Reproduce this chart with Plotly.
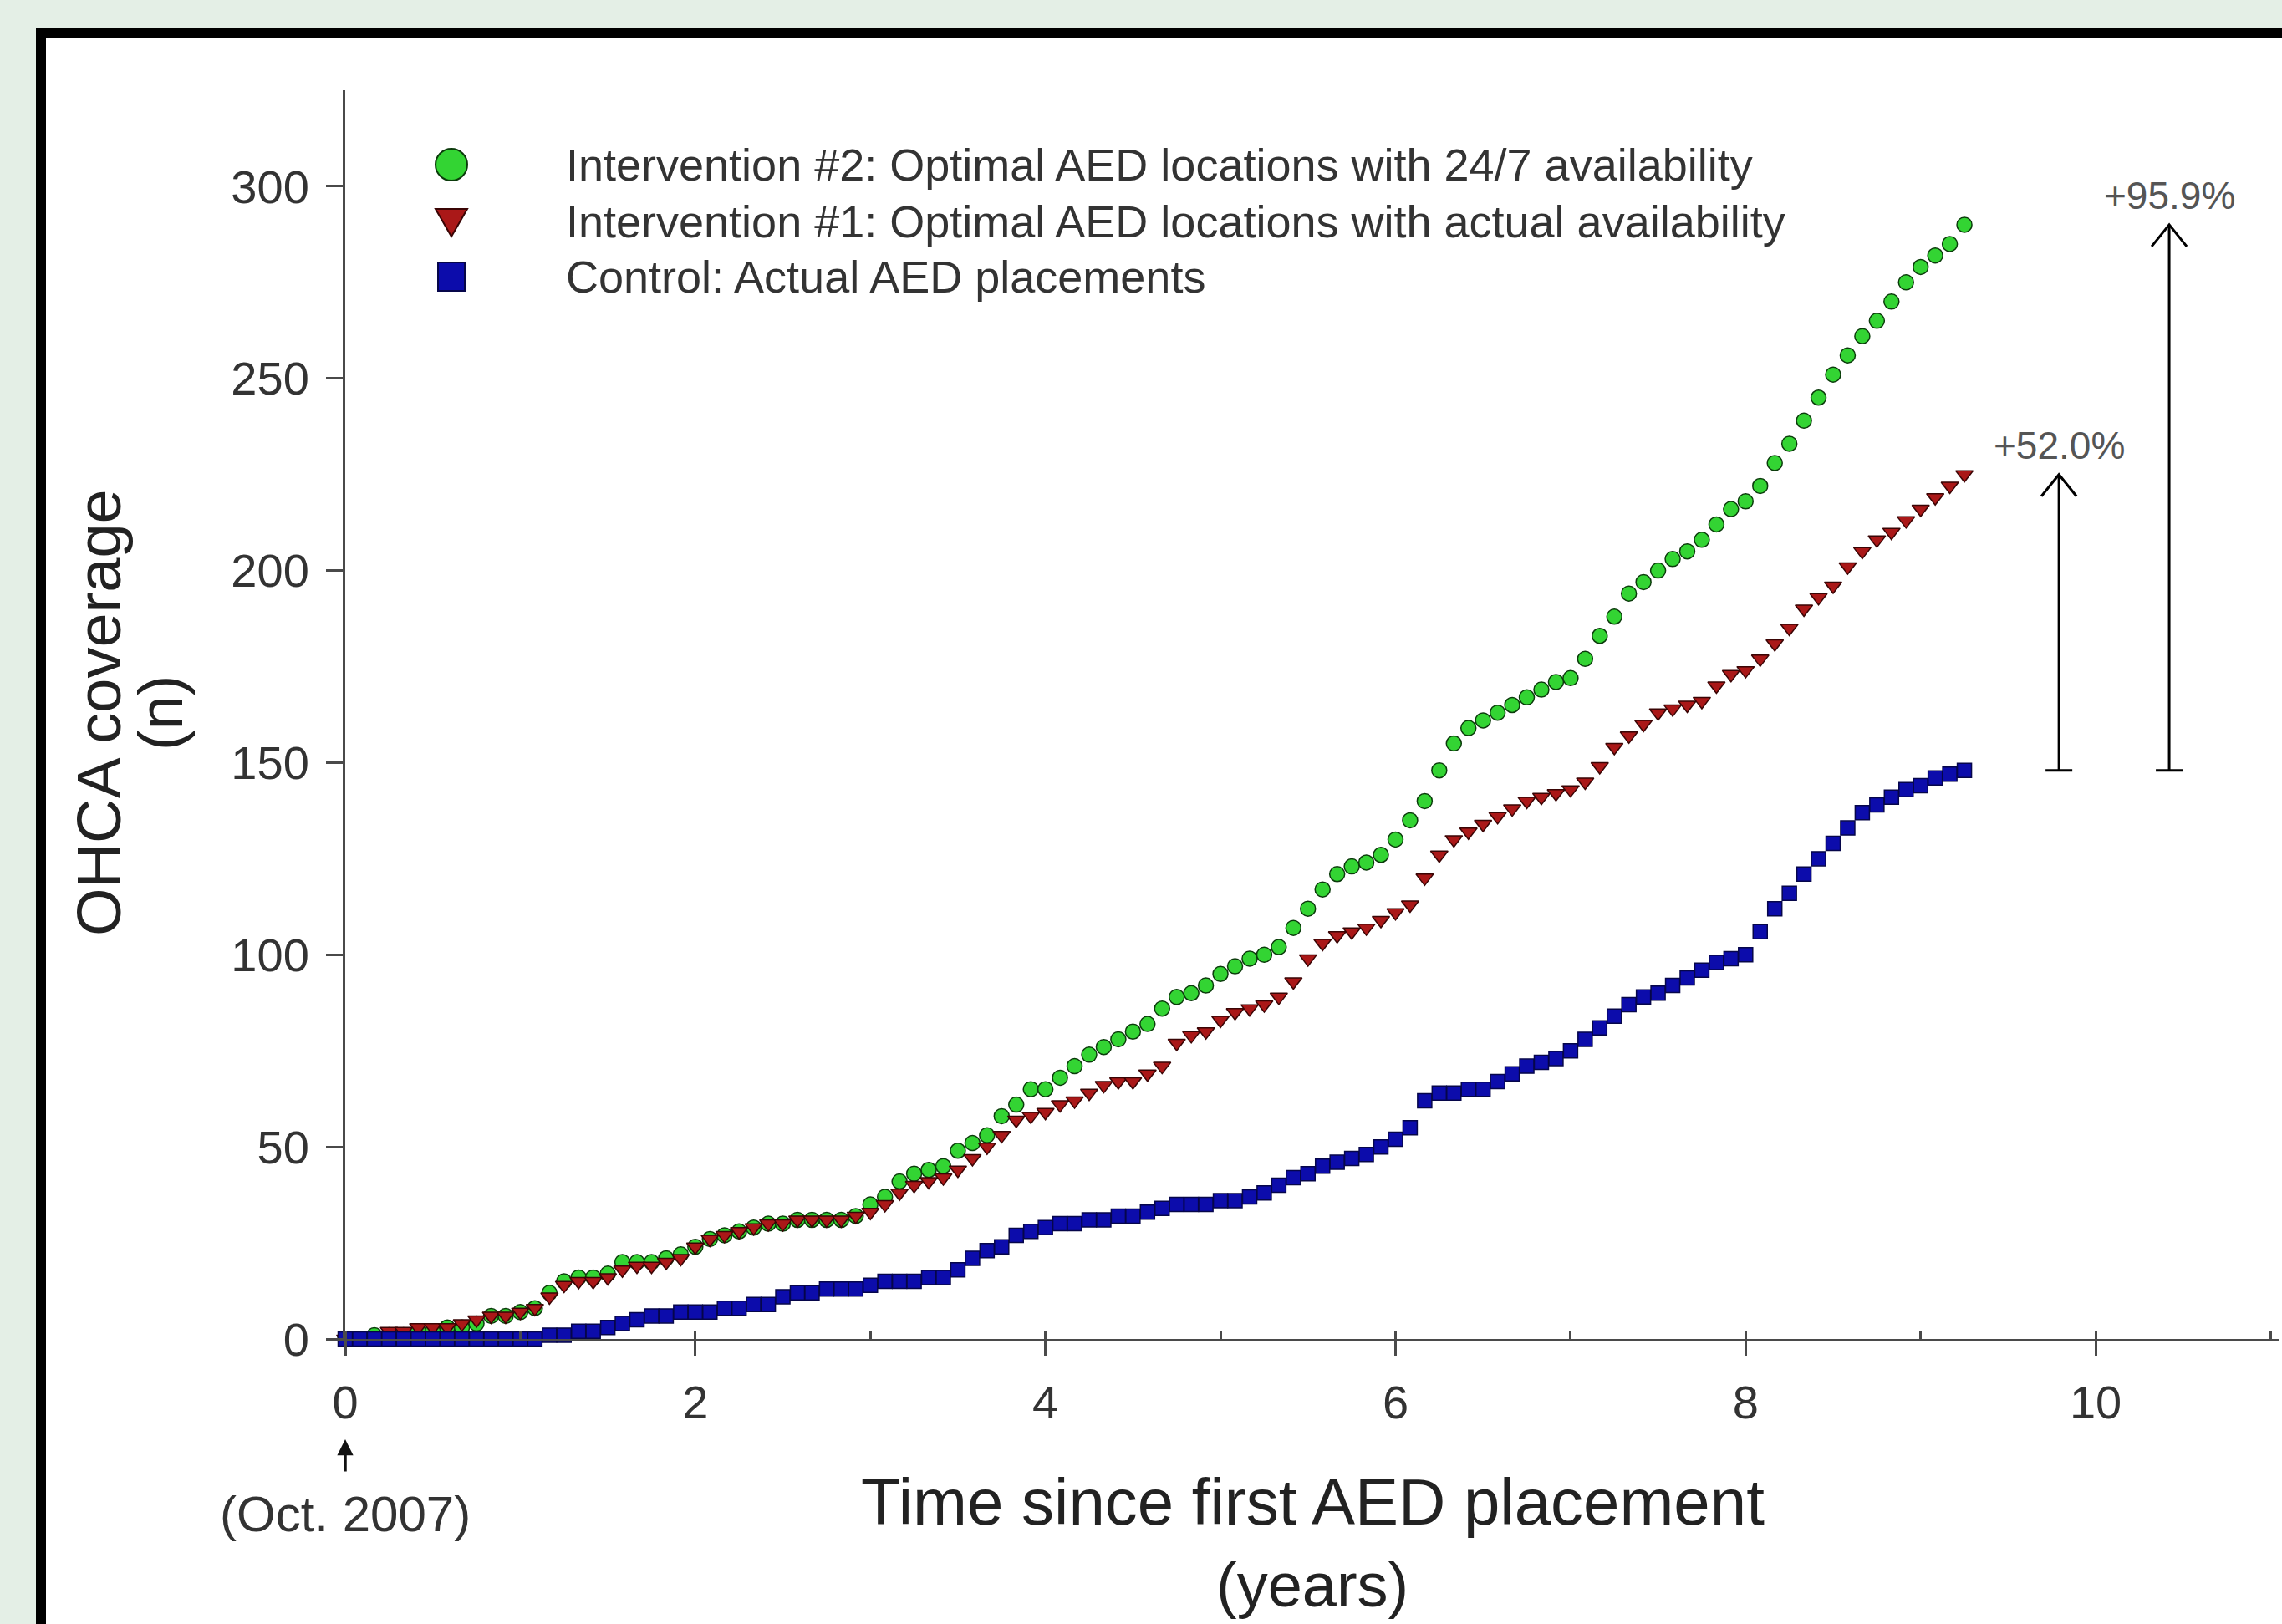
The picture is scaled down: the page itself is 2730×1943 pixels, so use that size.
import plotly.graph_objects as go

# ---------------- data ----------------
months = list(range(112))
years = [m / 12 for m in months]

intervention2 = [
    0, 0, 1, 1, 1, 2, 2, 3, 3, 4,
    6, 6, 7, 8, 12, 15, 16, 16, 17, 20,
    20, 20, 21, 22, 24, 26, 27, 28, 29, 30,
    30, 31, 31, 31, 31, 32, 35, 37, 41, 43,
    44, 45, 49, 51, 53, 58, 61, 65, 65, 68,
    71, 74, 76, 78, 80, 82, 86, 89, 90, 92,
    95, 97, 99, 100, 102, 107, 112, 117, 121, 123,
    124, 126, 130, 135, 140, 148, 155, 159, 161, 163,
    165, 167, 169, 171, 172, 177, 183, 188, 194, 197,
    200, 203, 205, 208, 212, 216, 218, 222, 228, 233,
    239, 245, 251, 256, 261, 265, 270, 275, 279, 282,
    285, 290,
]
intervention1 = [
    0, 1, 1, 2, 2, 3, 3, 3, 4, 5,
    6, 6, 7, 8, 11, 14, 15, 15, 16, 18,
    19, 19, 20, 21, 24, 26, 27, 28, 29, 30,
    30, 31, 31, 31, 31, 32, 33, 35, 38, 40,
    41, 42, 44, 47, 50, 53, 57, 58, 59, 61,
    62, 64, 66, 67, 67, 69, 71, 77, 79, 80,
    83, 85, 86, 87, 89, 93, 99, 103, 105, 106,
    107, 109, 111, 113, 120, 126, 130, 132, 134, 136,
    138, 140, 141, 142, 143, 145, 149, 154, 157, 160,
    163, 164, 165, 166, 170, 173, 174, 177, 181, 185,
    190, 193, 196, 201, 205, 208, 210, 213, 216, 219,
    222, 225,
]
control = [
    0, 0, 0, 0, 0, 0, 0, 0, 0, 0,
    0, 0, 0, 0, 1, 1, 2, 2, 3, 4,
    5, 6, 6, 7, 7, 7, 8, 8, 9, 9,
    11, 12, 12, 13, 13, 13, 14, 15, 15, 15,
    16, 16, 18, 21, 23, 24, 27, 28, 29, 30,
    30, 31, 31, 32, 32, 33, 34, 35, 35, 35,
    36, 36, 37, 38, 40, 42, 43, 45, 46, 47,
    48, 50, 52, 55, 62, 64, 64, 65, 65, 67,
    69, 71, 72, 73, 75, 78, 81, 84, 87, 89,
    90, 92, 94, 96, 98, 99, 100, 106, 112, 116,
    121, 125, 129, 133, 137, 139, 141, 143, 144, 146,
    147, 148,
]

series_names = [
    "Intervention #2: Optimal AED locations with 24/7 availability",
    "Intervention #1: Optimal AED locations with actual availability",
    "Control: Actual AED placements",
]
x_ticks = [0, 2, 4, 6, 8, 10]
y_ticks = [0, 50, 100, 150, 200, 250, 300]
arrow_x = [9.79, 10.42]  # positions of the two gain arrows (years)

# ---------------- figure geometry ----------------
W, H = 2730, 1943
ML, MR, MT, MB = 413, 3, 108, 341
PW, PH = W - ML - MR, H - MT - MB
FONT = "Liberation Sans, Arial, Helvetica, sans-serif"


def px_x(px):
    return (px - ML) / PW


def px_y(py):
    return (H - MB - py) / PH


styles = [
    dict(symbol="circle", color="#33d433", line="#0b3b0b", size=18),
    dict(symbol="triangle-down", color="#aa1818", line="#3a0505", size=18),
    dict(symbol="square", color="#0c0cab", line="#06064a", size=17),
]
data = [intervention2, intervention1, control]

fig = go.Figure()
for name, ys, st in zip(series_names, data, styles):
    fig.add_trace(go.Scatter(
        x=years, y=ys, mode="markers", name=name, showlegend=False,
        cliponaxis=False,
        marker=dict(symbol=st["symbol"], size=st["size"], color=st["color"],
                    line=dict(color=st["line"], width=1.5)),
    ))

shapes = []
annotations = []

# white panel with thick black frame
shapes.append(dict(type="rect", xref="paper", yref="paper", layer="below",
                   x0=px_x(49), x1=px_x(2800), y0=px_y(39), y1=px_y(2050),
                   fillcolor="white", line=dict(color="black", width=12)))

# custom legend (large glyphs)
leg_rows = [197, 265, 331]
leg_x = px_x(540)
for (name, st, row) in zip(series_names, styles, leg_rows):
    yy = px_y(row)
    common = dict(xref="paper", yref="paper", xsizemode="pixel", ysizemode="pixel",
                  xanchor=leg_x, yanchor=yy, fillcolor=st["color"],
                  line=dict(color=st["line"], width=2))
    if st["symbol"] == "circle":
        shapes.append(dict(type="circle", x0=-19, x1=19, y0=-19, y1=19, **common))
    elif st["symbol"] == "triangle-down":
        shapes.append(dict(type="path", path="M -19,15 L 19,15 L 0,-18 Z", **common))
    else:
        shapes.append(dict(type="rect", x0=-16, x1=16, y0=-17, y1=17, **common))
    annotations.append(dict(xref="paper", yref="paper", x=px_x(675), y=yy,
                            xanchor="left", yanchor="middle", showarrow=False,
                            text=name, font=dict(family=FONT, size=54, color="#333333")))

# gain arrows from control to the interventions
base = control[-1]
for ax_, top in zip(arrow_x, [intervention1[-1], intervention2[-1]]):
    shapes.append(dict(type="line", xref="x", yref="y", x0=ax_, x1=ax_, y0=base, y1=top,
                       line=dict(color="black", width=3)))
    shapes.append(dict(type="path", xref="x", yref="y", xsizemode="pixel", ysizemode="pixel",
                       xanchor=ax_, yanchor=top, path="M -21,-26 L 0,0 L 21,-26",
                       line=dict(color="black", width=3)))
    shapes.append(dict(type="line", xref="x", yref="y", xsizemode="pixel", ysizemode="pixel",
                       xanchor=ax_, yanchor=base, x0=-16, x1=16, y0=0, y1=0,
                       line=dict(color="black", width=3)))
    pct = (top - base) / base * 100
    annotations.append(dict(xref="x", yref="y", x=ax_, y=top, yshift=35,
                            showarrow=False, text=f"+{pct:.1f}%",
                            font=dict(family=FONT, size=46, color="#555555")))

# axis titles
annotations += [
    dict(xref="paper", yref="paper", x=px_x(1570), y=px_y(1797), showarrow=False,
         text="Time since first AED placement", xanchor="center", yanchor="middle",
         font=dict(family=FONT, size=78, color="#222222")),
    dict(xref="paper", yref="paper", x=px_x(1570), y=px_y(1896), showarrow=False,
         text="(years)", xanchor="center", yanchor="middle",
         font=dict(family=FONT, size=74, color="#222222")),
    dict(xref="paper", yref="paper", x=px_x(118), y=px_y(853), showarrow=False,
         text="OHCA coverage", textangle=-90, xanchor="center", yanchor="middle",
         font=dict(family=FONT, size=74, color="#222222")),
    dict(xref="paper", yref="paper", x=px_x(192), y=px_y(853), showarrow=False,
         text="(n)", textangle=-90, xanchor="center", yanchor="middle",
         font=dict(family=FONT, size=74, color="#222222")),
    # start-date marker
    dict(xref="x", yref="paper", x=0, y=px_y(1722), ax=0, ay=40, text="",
         showarrow=True, arrowhead=2, arrowsize=1.1, arrowwidth=3.5, arrowcolor="#111111"),
    dict(xref="x", yref="paper", x=0, y=px_y(1811), showarrow=False,
         text="(Oct. 2007)", xanchor="center", yanchor="middle",
         font=dict(family=FONT, size=60, color="#333333")),
]

fig.update_layout(
    width=W, height=H, autosize=False,
    margin=dict(l=ML, r=MR, t=MT, b=MB, pad=0),
    paper_bgcolor="#e4efe6", plot_bgcolor="rgba(0,0,0,0)",
    font=dict(family=FONT, color="#333333"),
    showlegend=False,
    shapes=shapes, annotations=annotations,
    xaxis=dict(range=[0, 11.05], showgrid=False, zeroline=False, showline=True,
               linecolor="#4a4a4a", linewidth=3, tickvals=x_ticks, ticks="outside",
               ticklen=17, tickwidth=3, tickcolor="#4a4a4a", ticklabelstandoff=8,
               tickfont=dict(family=FONT, size=56, color="#333333"),
               minor=dict(dtick=1, tick0=0, ticks="inside", ticklen=10, tickwidth=3,
                          tickcolor="#4a4a4a", showgrid=False),
               automargin=False),
    yaxis=dict(range=[0, 325], showgrid=False, zeroline=False, showline=True,
               linecolor="#4a4a4a", linewidth=3, tickvals=y_ticks, ticks="outside",
               ticklen=20, tickwidth=3, tickcolor="#4a4a4a", ticklabelstandoff=9,
               tickfont=dict(family=FONT, size=56, color="#333333"),
               automargin=False),
)

fig.write_html(
    "out.html",
    config={"displayModeBar": False},
    post_script="document.body.style.margin='0px';document.body.style.overflow='hidden';",
)
